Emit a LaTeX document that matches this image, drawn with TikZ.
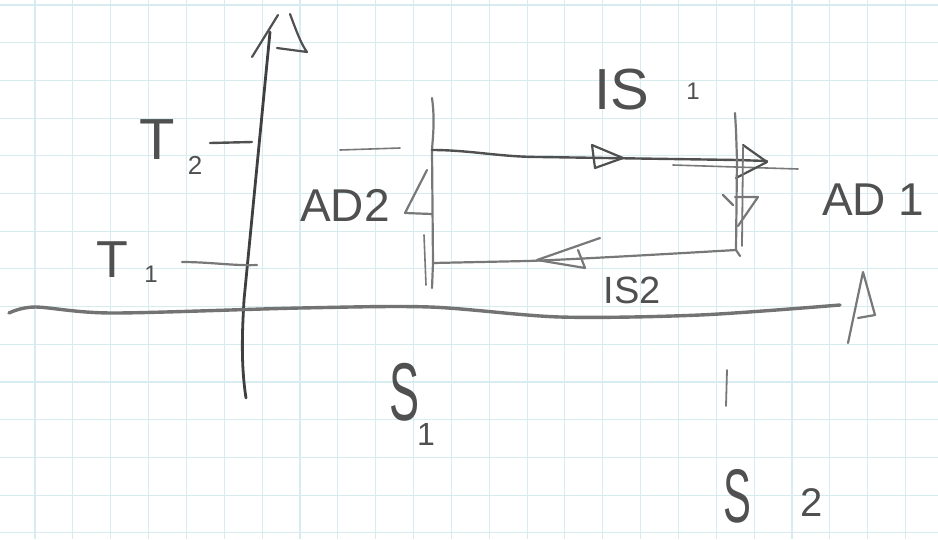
\documentclass[tikz,border=0pt]{standalone}
\usepackage{fontspec}
\setmainfont{Liberation Sans}
\usepackage{graphicx}
\definecolor{gridcyan}{RGB}{214,236,241}
\definecolor{pencil}{RGB}{80,80,80}
\definecolor{pencilsoft}{RGB}{120,120,120}
\newcommand{\handsize}[1]{\fontsize{#1}{#1}\selectfont}
\tikzset{
  pen/.style={draw=pencil, line width=2.4pt, line cap=round, line join=round},
  pensoft/.style={draw=pencilsoft, line width=2.2pt, line cap=round, line join=round},
  tipline/.style={draw=pencil, line width=2.2pt, line cap=round, line join=round},
  lbl/.style={text=pencil, inner sep=0pt},
}
\begin{document}
\begin{tikzpicture}[x=1pt,y=-1pt]
\useasboundingbox (0,0) rectangle (938,539);
\fill[white] (0,0) rectangle (938,539);

% squared paper
\foreach \i in {0,...,24}
  \draw[gridcyan, line width=1.1pt] ({-2.85+37.85*\i},0) -- ++(0,539);
\foreach \j in {0,...,14}
  \draw[gridcyan, line width=1.1pt] (0,{5+37.7*\j}) -- ++(938,0);

% temperature axis
\coordinate (Tbot) at (246,398);
\coordinate (Ttop) at (270,32);
\draw[pen, draw=black!75, line width=2.8pt] (Tbot) .. controls (240,360) and (243,320) .. (244,300) -- (Ttop);
\draw[tipline] (252,57) -- (278,15);
\draw[tipline] (290,14) .. controls (296,30) and (301,44) .. (307,52) -- (277,48);

% entropy axis
\coordinate (Sleft) at (9,313);
\coordinate (Sright) at (840,305);
\draw[pensoft, line width=3.4pt, draw=black!55] plot[smooth] coordinates
  {(Sleft) (35,307) (112,313) (300,308) (430,307) (560,317) (700,315) (Sright)};
\draw[tipline, draw=pencilsoft] (848,343) -- (863,272) -- (875,315) -- (858,318);

% temperature ticks
\coordinate (T2a) at (210,143);
\coordinate (T2b) at (252,142);
\coordinate (T1a) at (182,262);
\coordinate (T1b) at (257,265);
\draw[pen] (T2a) -- (T2b);
\draw[pensoft] (T1a) .. controls (210,262) and (235,266) .. (T1b);
\draw[pensoft, line width=1.6pt] (340,150) -- (400,148);

% entropy tick
\coordinate (S2a) at (727,370);
\coordinate (S2b) at (726,406);
\draw[pensoft, line width=1.8pt] (S2a) -- (S2b);

% cycle corners
\coordinate (A) at (432,150);
\coordinate (B) at (737,160);
\coordinate (C) at (736,250);
\coordinate (D) at (433,263);

% left adiabat
\draw[pensoft] (432,98) .. controls (435,120) and (433,135) .. (A) -- (D) -- (432,288);
\draw[pensoft, line width=1.6pt] (424,235) -- (426,285);
\draw[tipline, draw=pencilsoft] (427,170) -- (405,213) -- (432,214);

% upper isotherm
\draw[pen] (A) .. controls (470,150) and (500,157) .. (540,157) -- (B) -- (767,161);
\draw[pensoft, line width=1.6pt] (673,165) -- (798,169);
\draw[tipline] (592,145) -- (623,158) -- (595,168) -- cycle;
\draw[tipline] (743,145) -- (767,162) -- (736,178);

% right adiabat
\draw[pensoft] (735,113) -- (736,130) -- (B) -- (C) -- (740,256);
\draw[pensoft, line width=1.8pt] (743,147) -- (742,246);
\draw[tipline, draw=pencilsoft] (723,195) -- (733,205);
\draw[tipline, draw=pencilsoft] (735,197) -- (758,197) -- (738,226);

% lower isotherm
\draw[pensoft] (C) .. controls (650,255) and (560,260) .. (527,261) -- (D);
\draw[tipline, draw=pencilsoft] (600,238) -- (537,260) -- (585,268) -- (578,250);

% labels
\node[lbl] (lT2) at (157,140) {\handsize{58}T};
\node[lbl] (lT2i) at (195,165) {\handsize{26}2};
\node[lbl] (lT1) at (112,260) {\handsize{52}T};
\node[lbl] (lT1i) at (151,274) {\handsize{24}1};
\node[lbl] (lAD2) at (345,205) {\handsize{46}AD2};
\node[lbl] (lIS1) at (622,90) {\handsize{58}IS};
\node[lbl] (lIS1i) at (693,91) {\handsize{24}1};
\node[lbl] (lIS2) at (632,290) {\handsize{38}IS2};
\node[lbl, anchor=west] (lAD1) at (822,200) {\handsize{46}AD 1};
\node[lbl] (lS1) at (405,392) {\handsize{82}\scalebox{0.55}[1]{S}};
\node[lbl] (lS1i) at (426,434) {\handsize{32}1};
\node[lbl] (lS2) at (737,496) {\handsize{76}\scalebox{0.55}[1]{S}};
\node[lbl] (lS2i) at (812,503) {\handsize{40}2};
\end{tikzpicture}
\end{document}
